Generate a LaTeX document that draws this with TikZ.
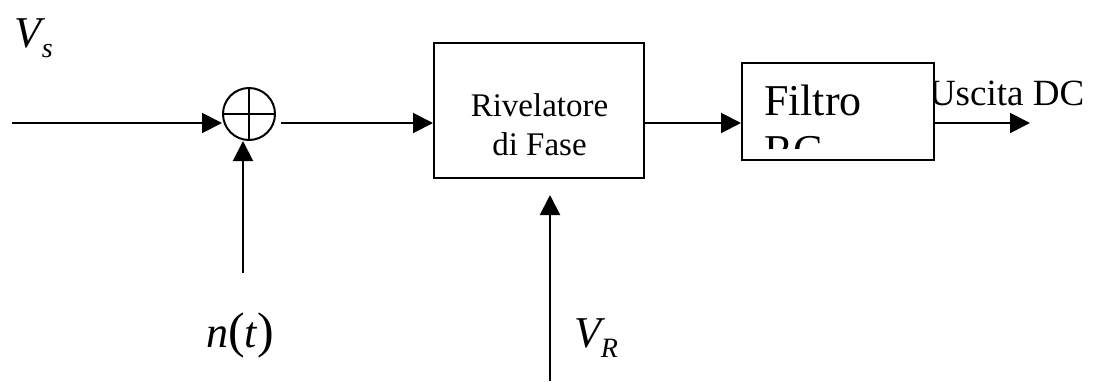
\documentclass[tikz,border=0pt]{standalone}
\usepackage{fontspec}
\setmainfont{Liberation Serif}
\usepackage{tikz}
\usetikzlibrary{arrows.meta,calc,positioning}

\newcommand{\lowsub}[1]{\raisebox{-5pt}{\fontsize{14}{16}\selectfont #1}}

\begin{document}
\begin{tikzpicture}[
      x=0.5pt, y=-0.5pt,
      line width=1pt,
      >={Triangle[length=10pt,width=10pt]},
      block/.style={draw=black, fill=white, line width=1pt, inner sep=0pt},
      summer/.style={draw=black, circle, line width=1pt, minimum size=26pt, inner sep=0pt},
      sig/.style={font=\fontsize{22}{26}\selectfont\itshape, inner sep=0pt},
]
\useasboundingbox (0,0) rectangle (1093,381);

% summing junction
\node[summer] (sum) at (249,114) {};
\draw[line width=1pt] (sum.north) -- (sum.south) (sum.west) -- (sum.east);

\node[sig, anchor=base west] (vs) at (14,47) {V\lowsub{s}};
\node[sig, anchor=base west] (nt) at (205,347) {n\textup{\fontsize{25}{26}\selectfont(}t\textup{\fontsize{25}{26}\selectfont)}};

\coordinate (in) at (12,123);
\coordinate (sumout) at (281,123);
\coordinate (noise) at (243,273);

% phase detector
\node[block, minimum width=105pt, minimum height=67.5pt] (riv) at (539,110.5) {};
\node[font=\fontsize{16.5}{19.5}\selectfont, align=center, anchor=base, inner sep=0pt] (rivtxt) at (539.5,155) {Rivelatore\\di Fase};

\coordinate (ref) at (550,381);
\coordinate (refend) at (550,195);
\node[sig, anchor=base west] (vr) at (573,347) {V\lowsub{R}};

% output label goes under the filter box
\node[font=\fontsize{18.5}{22}\selectfont, anchor=base west, inner sep=0pt] (usc) at (928,105) {Uscita DC};
\coordinate (out) at (1030,123);

% RC filter (text cut off by the box)
\node[block, minimum width=96pt, minimum height=48.5pt] (filtro) at (838,111.5) {};
\begin{scope}
  \clip (742,63) rectangle (934,148);
  \node[font=\fontsize{22}{25}\selectfont, align=left, anchor=base west, inner sep=0pt] (filtrotxt) at (763,165) {Filtro\\RC};
\end{scope}

\draw[->] (in) -- (sum.west |- in);
\draw[->] (noise) -- (noise |- sum.south);
\draw[->] (sumout) -- (riv.west |- in);
\draw[->] (ref) -- (refend);
\draw[->] (riv.east |- in) -- (filtro.west |- in);
\draw[->] (filtro.east |- in) -- (out);

\end{tikzpicture}
\end{document}
